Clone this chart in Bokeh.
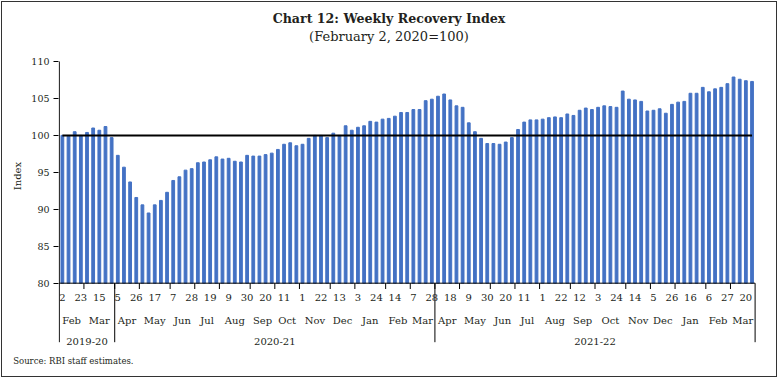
import pandas as pd
from bokeh.plotting import figure
from bokeh.models import Range1d, FixedTicker, ColumnDataSource, Title
from bokeh.core.properties import value
from bokeh.embed import file_html
from bokeh.resources import INLINE

# ---------------- data ----------------
title_text = "Chart 12: Weekly Recovery Index"
subtitle_text = "(February 2, 2020=100)"
y_label = "Index"
source_text = "Source: RBI staff estimates."
baseline = 100
week_start = "2020-02-02"

index_values = [
    100.0, 99.9, 100.5, 100.0, 100.4, 101.0, 100.7, 101.2, 99.7,            # Feb-Mar 2020
    97.3, 95.7, 93.7, 91.6, 90.6, 89.5, 90.6, 91.2, 92.3,                   # Apr-May 2020
    93.9, 94.4, 95.3, 95.5, 96.3, 96.4, 96.7, 97.1,                         # Jun-Jul
    96.8, 96.9, 96.5, 96.4, 97.3, 97.2, 97.2, 97.4, 97.6,                   # Aug-Sep
    98.1, 98.8, 99.0, 98.6, 98.8, 99.6, 100.0, 100.0, 99.7,                 # Oct-Nov
    100.3, 100.0, 101.3, 100.7, 101.1, 101.3, 101.9, 101.8, 102.2,          # Dec-Jan
    102.3, 102.6, 103.1, 103.1, 103.5, 103.5, 104.7, 104.9,                 # Feb-Mar 2021
    105.3, 105.6, 104.8, 104.0, 103.8, 101.7, 100.5, 99.6, 98.9,            # Apr-May 2021
    98.9, 98.8, 99.1, 99.7, 100.8, 101.8, 102.1, 102.1,                     # Jun-Jul
    102.2, 102.4, 102.5, 102.4, 102.9, 102.7, 103.4, 103.7, 103.5,          # Aug-Sep
    103.8, 104.0, 103.9, 103.8, 106.0, 104.9, 104.8, 104.6, 103.3,          # Oct-Nov
    103.4, 103.6, 103.0, 104.2, 104.5, 104.6, 105.7, 105.7, 106.5,          # Dec-Jan 2022
    105.9, 106.3, 106.5, 107.0, 107.9, 107.6, 107.4, 107.3,                 # Feb-Mar 2022
]

day_tick_labels = ["2", "23", "15", "5", "26", "17", "7", "28", "19", "9", "30", "20",
                   "11", "1", "22", "13", "3", "24", "14", "7", "28", "18", "9", "30",
                   "20", "11", "1", "22", "12", "3", "24", "14", "5", "26", "16", "6",
                   "27", "20"]
day_tick_step = 3
fiscal_years = ["2019-20", "2020-21", "2021-22"]
y_ticks = [80, 85, 90, 95, 100, 105, 110]

# ---------------- derived categories ----------------
n = len(index_values)
weeks = pd.date_range(week_start, periods=n, freq="7D")
xs = list(range(n))

month_names, month_centers, month_bounds = [], [], []
start = 0
for i in range(1, n + 1):
    if i == n or weeks[i].month != weeks[start].month:
        month_names.append(weeks[start].strftime("%b"))
        month_centers.append((start + i - 1) / 2)
        if i < n:
            month_bounds.append(i - 0.5)
        start = i

fy_of = [w.year if w.month >= 4 else w.year - 1 for w in weeks]
fy_centers, fy_bounds = [], []
start = 0
for i in range(1, n + 1):
    if i == n or fy_of[i] != fy_of[start]:
        fy_centers.append((start + i - 1) / 2)
        fy_bounds.append(i - 0.5)
        start = i

tick_pos = [k * day_tick_step for k in range(len(day_tick_labels))]

# ---------------- layout geometry (page pixels) ----------------
M = 2                               # css margin around the figure (room for the frame line)
W, H = 778 - 2 * M, 378 - 2 * M
FRAME_L, FRAME_B = 58, 349          # page pixel of frame left / frame bottom
L = FRAME_L - M
B = (H + M) - FRAME_B
PX_L, PX_R = 58.8, 754.6            # page pixel of left / right edge of the category axis
PY_TOP, PY_BOT = 61.0, 282.7        # page pixel of y=110 / y=80
y0, y1 = y_ticks[0], y_ticks[-1]
kx = (PX_R - PX_L) / n
ky = (PY_BOT - PY_TOP) / (y1 - y0)

def X(px):
    return -0.5 + (px - PX_L) / kx

def Y(py):
    return y1 - (py - PY_TOP) / ky

FONT = "DejaVu Serif"
TXT = "#231F20"
BAR = "#4472C4"

p = figure(width=W, height=H, title=None,
           x_range=Range1d(X(FRAME_L), X(W + M)), y_range=Range1d(Y(FRAME_B), Y(M)),
           output_backend="svg", toolbar_location=None, tools="",
           x_axis_location=None,
           min_border_left=L, min_border_right=0, min_border_top=0, min_border_bottom=B)
p.outline_line_color = None
p.xgrid.visible = False
p.ygrid.visible = False
p.background_fill_color = "white"
p.border_fill_color = "white"
p.styles = {"margin": f"{M}px", "outline": "1px solid #333333", "outline-offset": "0px"}

# bars and the 100 reference line
src = ColumnDataSource(dict(x=xs, v=index_values))
p.vbar(x="x", top="v", bottom=y0, width=0.45, source=src, color=BAR)
p.line(x=[xs[0], xs[-1]], y=[baseline, baseline], line_color="black", line_width=2)

# y axis (library axis for ticks/labels; its line drawn below so it runs into the separator)
ya = p.yaxis[0]
ya.ticker = FixedTicker(ticks=y_ticks)
ya.axis_line_color = None
ya.major_tick_out = 5
ya.major_tick_in = 0
ya.major_tick_line_color = "black"
ya.minor_tick_line_color = None
ya.major_label_standoff = 4
ya.major_label_text_font = FONT
ya.major_label_text_font_size = "9.5px"
ya.major_label_text_color = TXT
ya.axis_label = y_label
ya.axis_label_text_font = FONT
ya.axis_label_text_font_size = "10px"
ya.axis_label_text_font_style = "normal"
ya.axis_label_text_color = TXT
ya.axis_label_standoff = 5

sep_bottom = Y(341.7)
# y-axis line continuing down as the left fiscal-year boundary
p.segment(x0=[-0.5], y0=[y1], x1=[-0.5], y1=[sep_bottom], line_color="black", line_width=1)
# category axis line
p.segment(x0=[-0.5], y0=[y0], x1=[n - 0.5], y1=[y0], line_color="black", line_width=1)
# month boundary ticks
p.segment(x0=month_bounds, y0=[y0] * len(month_bounds), x1=month_bounds,
          y1=[Y(288.5)] * len(month_bounds), line_color="black", line_width=1)
# fiscal-year separators
p.segment(x0=fy_bounds, y0=[y0] * len(fy_bounds), x1=fy_bounds,
          y1=[sep_bottom] * len(fy_bounds), line_color="black", line_width=1)

def add_text(xv, yv, texts, size, style="normal"):
    s = ColumnDataSource(dict(x=xv, y=yv, t=texts))
    p.text(x="x", y="y", text="t", source=s, text_align="center", text_baseline="middle",
           text_font=value(FONT), text_font_size=value(size),
           text_font_style=style, text_color=TXT)

add_text(tick_pos, [Y(296.5)] * len(tick_pos), day_tick_labels, "10px")
add_text(month_centers, [Y(319.5)] * len(month_centers), month_names, "10px")
add_text(fy_centers, [Y(340.5)] * len(fy_centers), fiscal_years, "10px")

add_text([X(388.5)], [Y(17.5)], [title_text], "12.6px", "bold")
add_text([X(388.5)], [Y(35.5)], [subtitle_text], "13px")

# source note below the plot
p.add_layout(Title(text=source_text, align="left", offset=12.7 - FRAME_L, vertical_align="middle",
                   text_font=FONT, text_font_size="8.5px", text_font_style="normal",
                   text_color=TXT, standoff=10), "below")

open("out.html", "w").write(file_html(p, INLINE))
